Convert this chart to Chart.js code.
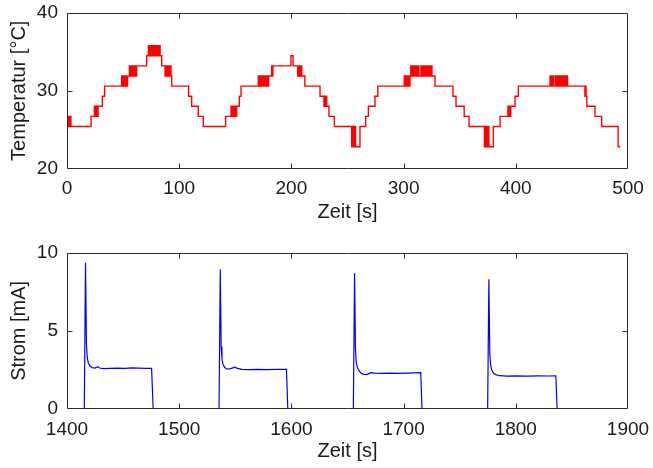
<!DOCTYPE html>
<html>
<head>
<meta charset="utf-8">
<script src="https://cdn.jsdelivr.net/npm/chart.js@4.4.1/dist/chart.umd.min.js"></script>
<style>
  html, body { margin: 0; padding: 0; background: #fff; }
  canvas { display: block; }
</style>
</head>
<body>
<canvas id="temp" width="653" height="234"></canvas>
<canvas id="strom" width="653" height="234"></canvas>
<script>
// temperature, step values: value holds from this time until the next one
const tempZeit = [
  0, 1.2, 1.7, 2.3, 2.8, 3.5, 21.4,
  24.4, 24.9, 25.5, 26.0, 26.6, 27.1, 27.7, 31.5, 33.5,
  48.7, 49.3, 50.0, 50.6, 51.3, 52.0, 52.6, 53.3, 54.0,
  55.6, 56.2, 56.9, 57.5, 58.2, 58.8, 59.5, 60.1, 60.8, 61.4, 62.1,
  71.0, 72.5, 73.0, 73.6, 74.2, 74.8, 75.3, 76.0, 77.0, 77.5, 78.5, 79.0, 80.0, 80.5, 81.5, 82.0, 83.0,
  84.4, 87.4, 88.0, 88.7, 89.3, 90.0, 90.6, 91.3, 92.0, 92.7,
  93.3, 108.4, 111.1, 117.0, 121.5,
  141.4, 146.2, 146.8, 147.4, 148.0, 148.6, 149.2, 149.8, 150.4, 151.2, 153.6, 155.1,
  170.5, 171.1, 171.8, 172.4, 173.1, 173.7, 174.4, 175.0, 175.7, 176.3, 177.0, 177.6, 178.0,
  179.2, 179.7, 182.4, 183.0, 183.5, 199.6, 201.5,
  205.6, 206.2, 206.8, 207.4, 208.0, 208.6, 209.2, 212.0,
  225.5, 229.0, 229.6, 230.2, 230.8, 231.4, 233.5, 238.3,
  253.7, 254.3, 255.5, 256.1, 257.2, 261.1, 266.2, 268.6, 274.5, 277.0,
  300.6, 301.2, 301.9, 302.5, 303.2, 303.8, 304.5, 305.1, 305.7,
  306.4, 307.0, 307.6, 308.3, 309.0, 309.6, 310.3, 311.0, 311.6, 312.3, 313.0, 313.6,
  315.5, 316.2, 316.9, 317.5, 318.2, 318.8, 319.5, 320.1, 320.8, 321.4, 322.1, 322.7, 323.4, 324.0, 324.7, 325.3,
  328.0, 344.0, 346.7, 354.0, 358.3,
  372.0, 372.8, 373.4, 374.0, 374.6, 375.3, 376.0, 380.0, 386.0,
  393.0, 393.6, 394.2, 394.8, 395.5, 399.3, 402.3,
  430.5, 431.1, 431.8, 432.4, 433.1, 433.7, 435.3, 435.9, 436.6, 437.2, 437.9, 438.5, 439.2, 439.8,
  440.5, 441.1, 441.8, 442.4, 443.1, 443.7, 444.4, 445.0, 445.7, 446.1,
  461.6, 462.1, 462.6, 463.3, 470.6, 476.5, 491.2, 493.0
];
const tempWert = [
  26.7, 25.4, 26.7, 25.4, 26.7, 25.4, 26.7,
  28.0, 26.7, 28.0, 26.7, 28.0, 26.7, 28.0, 29.3, 30.6,
  31.9, 30.6, 31.9, 30.6, 31.9, 30.6, 31.9, 30.6, 31.9,
  33.2, 31.9, 33.2, 31.9, 33.2, 31.9, 33.2, 31.9, 33.2, 31.9, 33.2,
  34.5, 35.8, 34.5, 35.8, 34.5, 35.8, 34.5, 35.8, 34.5, 35.8, 34.5, 35.8, 34.5, 35.8, 34.5, 35.8, 34.5,
  33.2, 31.9, 33.2, 31.9, 33.2, 31.9, 33.2, 31.9, 33.2, 31.9,
  30.6, 29.3, 28.0, 26.7, 25.4,
  26.7, 28.0, 26.7, 28.0, 26.7, 28.0, 26.7, 28.0, 26.7, 28.0, 29.3, 30.6,
  31.9, 30.6, 31.9, 30.6, 31.9, 30.6, 31.9, 30.6, 31.9, 30.6, 31.9, 30.6, 31.9,
  30.6, 31.9, 33.2, 31.9, 33.2, 34.5, 33.2,
  31.9, 33.2, 31.9, 33.2, 31.9, 33.2, 31.9, 30.6,
  29.3, 28.0, 29.3, 28.0, 29.3, 28.0, 26.7, 25.4,
  22.8, 25.4, 22.8, 25.4, 22.8, 25.4, 26.7, 28.0, 29.3, 30.6,
  31.9, 30.6, 31.9, 30.6, 31.9, 30.6, 31.9, 30.6, 31.9,
  33.2, 31.9, 33.2, 31.9, 33.2, 31.9, 33.2, 31.9, 33.2, 31.9, 33.2, 31.9,
  33.2, 31.9, 33.2, 31.9, 33.2, 31.9, 33.2, 31.9, 33.2, 31.9, 33.2, 31.9, 33.2, 31.9, 33.2, 31.9,
  30.6, 29.3, 28.0, 26.7, 25.4,
  22.8, 25.4, 22.8, 25.4, 22.8, 25.4, 22.8, 25.4, 26.7,
  28.0, 26.7, 28.0, 26.7, 28.0, 29.3, 30.6,
  31.9, 30.6, 31.9, 30.6, 31.9, 30.6, 31.9, 30.6, 31.9, 30.6, 31.9, 30.6, 31.9, 30.6,
  31.9, 30.6, 31.9, 30.6, 31.9, 30.6, 31.9, 30.6, 31.9, 30.6,
  29.3, 30.6, 29.3, 28.0, 26.7, 25.4, 22.8, 22.8
];

// current pulses, null = pause (nothing drawn)
const stromZeit = [
  1415.4, 1416.5, 1417.3, 1418, 1419, 1420.5, 1422.5, 1425, 1427.5, 1429, 1433, 1438, 1445, 1452, 1458, 1464, 1470, 1475.4, 1476.8, 1500,
  1535.5, 1536.6, 1537.4, 1538.1, 1539.1, 1540.6, 1542.5, 1546, 1549.5, 1552, 1556, 1562, 1570, 1578, 1586, 1595.6, 1596.8, 1620,
  1655.2, 1656.3, 1657.1, 1657.8, 1658.8, 1660.3, 1662, 1664, 1667, 1669.5, 1671, 1674, 1680, 1688, 1696, 1704, 1715.3, 1716.4, 1740,
  1774.9, 1776, 1776.8, 1777.5, 1778.5, 1780, 1782, 1786, 1792, 1800, 1810, 1820, 1828, 1835.7, 1836.8
];
const stromWert = [
  0, 9.35, 4.2, 3.3, 2.95, 2.75, 2.65, 2.62, 2.7, 2.62, 2.58, 2.6, 2.62, 2.6, 2.63, 2.62, 2.6, 2.6, 0, null,
  0, 8.94, 4.0, 3.2, 2.85, 2.65, 2.56, 2.58, 2.68, 2.6, 2.53, 2.52, 2.54, 2.52, 2.53, 2.53, 0, null,
  0, 8.68, 3.8, 3.0, 2.65, 2.45, 2.3, 2.22, 2.2, 2.28, 2.33, 2.3, 2.28, 2.3, 2.28, 2.3, 2.32, 0, null,
  0, 8.3, 3.6, 2.85, 2.5, 2.3, 2.2, 2.13, 2.1, 2.12, 2.1, 2.12, 2.11, 2.12, 0
];

const tempTicks = [0, 100, 200, 300, 400, 500];
const stromTicks = [1400, 1500, 1600, 1700, 1800, 1900];

const schrift = 'Liberation Sans, Arial, sans-serif';
const textFarbe = '#1a1a1a';

// box around the plot with inward tick marks, like matlab
const rahmen = {
  id: 'rahmen',
  afterDatasetsDraw(chart) {
    const { ctx, chartArea: a, scales: { x, y } } = chart;
    const l = Math.round(a.left) + 0.5, r = Math.round(a.right) - 0.5;
    const t = Math.round(a.top) + 0.5, b = Math.round(a.bottom) - 0.5;
    ctx.save();
    ctx.strokeStyle = '#2b2b2b';
    ctx.lineWidth = 1;
    ctx.beginPath();
    ctx.rect(l, t, r - l, b - t);
    x.ticks.forEach(tk => {
      const px = Math.round(x.getPixelForValue(tk.value)) + 0.5;
      if (px <= l + 1 || px >= r - 1) return;
      ctx.moveTo(px, b); ctx.lineTo(px, b - 5);
      ctx.moveTo(px, t); ctx.lineTo(px, t + 5);
    });
    y.ticks.forEach(tk => {
      const py = Math.round(y.getPixelForValue(tk.value)) + 0.5;
      if (py <= t + 1 || py >= b - 1) return;
      ctx.moveTo(l, py); ctx.lineTo(l + 5, py);
      ctx.moveTo(r, py); ctx.lineTo(r - 5, py);
    });
    ctx.stroke();
    ctx.restore();
  }
};

function achsen(xmin, xmax, xstep, ymin, ymax, ystep, ytitel, xH, titelUnten) {
  return {
    x: {
      type: 'linear', min: xmin, max: xmax,
      grid: { display: false, drawTicks: false }, border: { display: false },
      ticks: { stepSize: xstep, padding: 9, maxRotation: 0, color: textFarbe, font: { family: schrift, size: 19 },
               callback: v => String(v) },
      title: { display: true, text: 'Zeit [s]', color: textFarbe, font: { family: schrift, size: 20 }, padding: { top: 0, bottom: titelUnten } },
      afterFit(s) { s.height = xH; s.paddingLeft = 0; s.paddingRight = 0; }
    },
    y: {
      min: ymin, max: ymax,
      grid: { display: false, drawTicks: false }, border: { display: false },
      ticks: { stepSize: ystep, padding: 9, color: textFarbe, font: { family: schrift, size: 19 } },
      title: { display: true, text: ytitel, color: textFarbe, font: { family: schrift, size: 20 }, padding: { top: 7, bottom: 0 } },
      afterFit(s) { s.width = 67; s.paddingTop = 0; s.paddingBottom = 0; }
    }
  };
}

const grund = {
  responsive: false,
  animation: false,
  devicePixelRatio: 1,
  plugins: { legend: { display: false }, tooltip: { enabled: false } },
  elements: { point: { radius: 0 } }
};

new Chart(document.getElementById('temp'), {
  type: 'line',
  data: {
    datasets: [{
      data: tempZeit.map((t, i) => ({ x: t, y: tempWert[i] })),
      borderColor: '#ff0000',
      borderWidth: 1.4,
      stepped: true,
      fill: false
    }]
  },
  options: Object.assign({}, grund, {
    layout: { padding: { top: 13, right: 25, left: 0, bottom: 0 } },
    scales: achsen(tempTicks[0], tempTicks[tempTicks.length - 1], 100, 20, 40, 10, 'Temperatur [°C]', 65.5, 10)
  }),
  plugins: [rahmen]
});

new Chart(document.getElementById('strom'), {
  type: 'line',
  data: {
    datasets: [{
      data: stromZeit.map((t, i) => ({ x: t, y: stromWert[i] })),
      borderColor: '#0000ff',
      borderWidth: 1.2,
      spanGaps: false,
      fill: false
    }]
  },
  options: Object.assign({}, grund, {
    layout: { padding: { top: 18.7, right: 25, left: 0, bottom: 0 } },
    scales: achsen(stromTicks[0], stromTicks[stromTicks.length - 1], 100, 0, 10, 5, 'Strom [mA]', 59, 5)
  }),
  plugins: [rahmen]
});
</script>
</body>
</html>
